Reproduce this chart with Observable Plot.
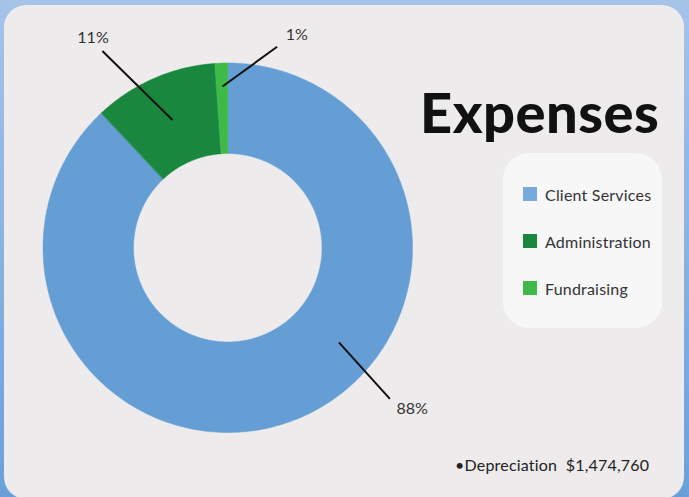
<!DOCTYPE html>
<html><head><meta charset="utf-8">
<script src="https://cdn.jsdelivr.net/npm/d3@7"></script>
<script src="https://cdn.jsdelivr.net/npm/@observablehq/plot@0.6"></script>
<style>
html,body{margin:0;padding:0;}
body{width:689px;height:497px;overflow:hidden;position:relative;font-family:Lato,"Open Sans",sans-serif;
  background:linear-gradient(to bottom,#a6c3ea 0%,#8cb4e3 45%,#6aa0d9 100%);}
#panel{position:absolute;left:4px;top:5px;width:680px;height:494px;border-radius:22px;background:#edebec;}
#chart{position:absolute;left:0;top:0;}
#title{position:absolute;left:420px;top:84px;font-size:56px;font-weight:900;color:#111;letter-spacing:0.5px;line-height:1;}
#legend{position:absolute;left:503px;top:153px;width:159px;height:175px;border-radius:26px;background:#f7f7f7;}
.row{position:absolute;left:20px;height:16px;display:flex;align-items:center;font-size:16px;color:#333;white-space:nowrap;letter-spacing:0.2px;}
.sw{width:14px;height:14px;margin-right:8px;flex:none;}
#note{position:absolute;left:455px;top:455px;font-size:16px;color:#222;white-space:pre;letter-spacing:0.2px;}
</style>
</head><body>
<div id="panel"></div>
<div id="chart"></div>
<div id="title">Expenses</div>
<div id="legend"></div>
<div id="note"></div>
<script>
// ---- data ----
const categories = ["Client Services", "Administration", "Fundraising"];
const values = [88.0, 10.9, 1.1];
const labels = ["88%", "11%", "1%"];
const colors = ["#659ed5", "#19873e", "#3fba48"];
const legendColors = ["#78a9dc", "#19873e", "#3fba48"];
const noteText = "\u2022Depreciation  $1,474,760";

// ---- label placement (angle deg clockwise from top, radius relative to outer radius) ----
const labelPlacement = {
  "Client Services": {inA: 130.4, inR: 0.79, outA: 133, outR: 1.20, txtA: 131.1, txtR: 1.325},
  "Administration":  {inA: 336.6, inR: 0.753, outA: 327.5, outR: 1.263, txtA: 327.3, txtR: 1.35},
  "Fundraising":     {inA: 358.1, inR: 0.873, outA: 13.8, outR: 1.12, txtA: 18.0, txtR: 1.21}
};
const innerRatio = 0.51;

const total = d3.sum(values);
const pol = (aDeg, r) => { const a = aDeg * Math.PI / 180; return [r * Math.sin(a), r * Math.cos(a)]; };

let acc = 0;
const slices = categories.map((c, i) => {
  const a0 = acc / total * 360; acc += values[i]; const a1 = acc / total * 360;
  const pts = [];
  const n = Math.max(4, Math.ceil((a1 - a0) / 1));
  for (let k = 0; k <= n; k++) { const a = a0 + (a1 - a0) * k / n; const [x, y] = pol(a, 1); pts.push({x, y}); }
  for (let k = n; k >= 0; k--) { const a = a0 + (a1 - a0) * k / n; const [x, y] = pol(a, innerRatio); pts.push({x, y}); }
  return {cat: c, color: colors[i], pts};
});

const links = categories.map((c, i) => {
  const p = labelPlacement[c];
  const [x1, y1] = pol(p.inA, p.inR), [x2, y2] = pol(p.outA, p.outR), [tx, ty] = pol(p.txtA, p.txtR);
  return {cat: c, label: labels[i], x1, y1, x2, y2, tx, ty};
});

const marks = slices.map(s => Plot.line(s.pts, {x: "x", y: "y", fill: s.color, stroke: s.color, strokeWidth: 0.5, curve: "linear-closed"}));
marks.push(Plot.link(links, {x1: "x1", y1: "y1", x2: "x2", y2: "y2", stroke: "#111", strokeWidth: 2}));
marks.push(Plot.text(links, {x: "tx", y: "ty", text: "label", fontSize: 16, fill: "#333", fontFamily: "Lato, sans-serif"}));

const chart = Plot.plot({
  width: 689, height: 497, margin: 0,
  x: {domain: [-1, 1], range: [42.5, 412], axis: null},
  y: {domain: [-1, 1], range: [432, 62.5], axis: null},
  style: {background: "transparent", overflow: "visible"},
  marks
});
document.getElementById("chart").appendChild(chart);

const leg = document.getElementById("legend");
categories.forEach((c, i) => {
  const row = document.createElement("div");
  row.className = "row";
  row.style.top = (33 + i * 47) + "px";
  row.innerHTML = `<span class="sw" style="background:${legendColors[i]}"></span><span>${c}</span>`;
  leg.appendChild(row);
});
document.getElementById("note").textContent = noteText;
</script>
</body></html>
